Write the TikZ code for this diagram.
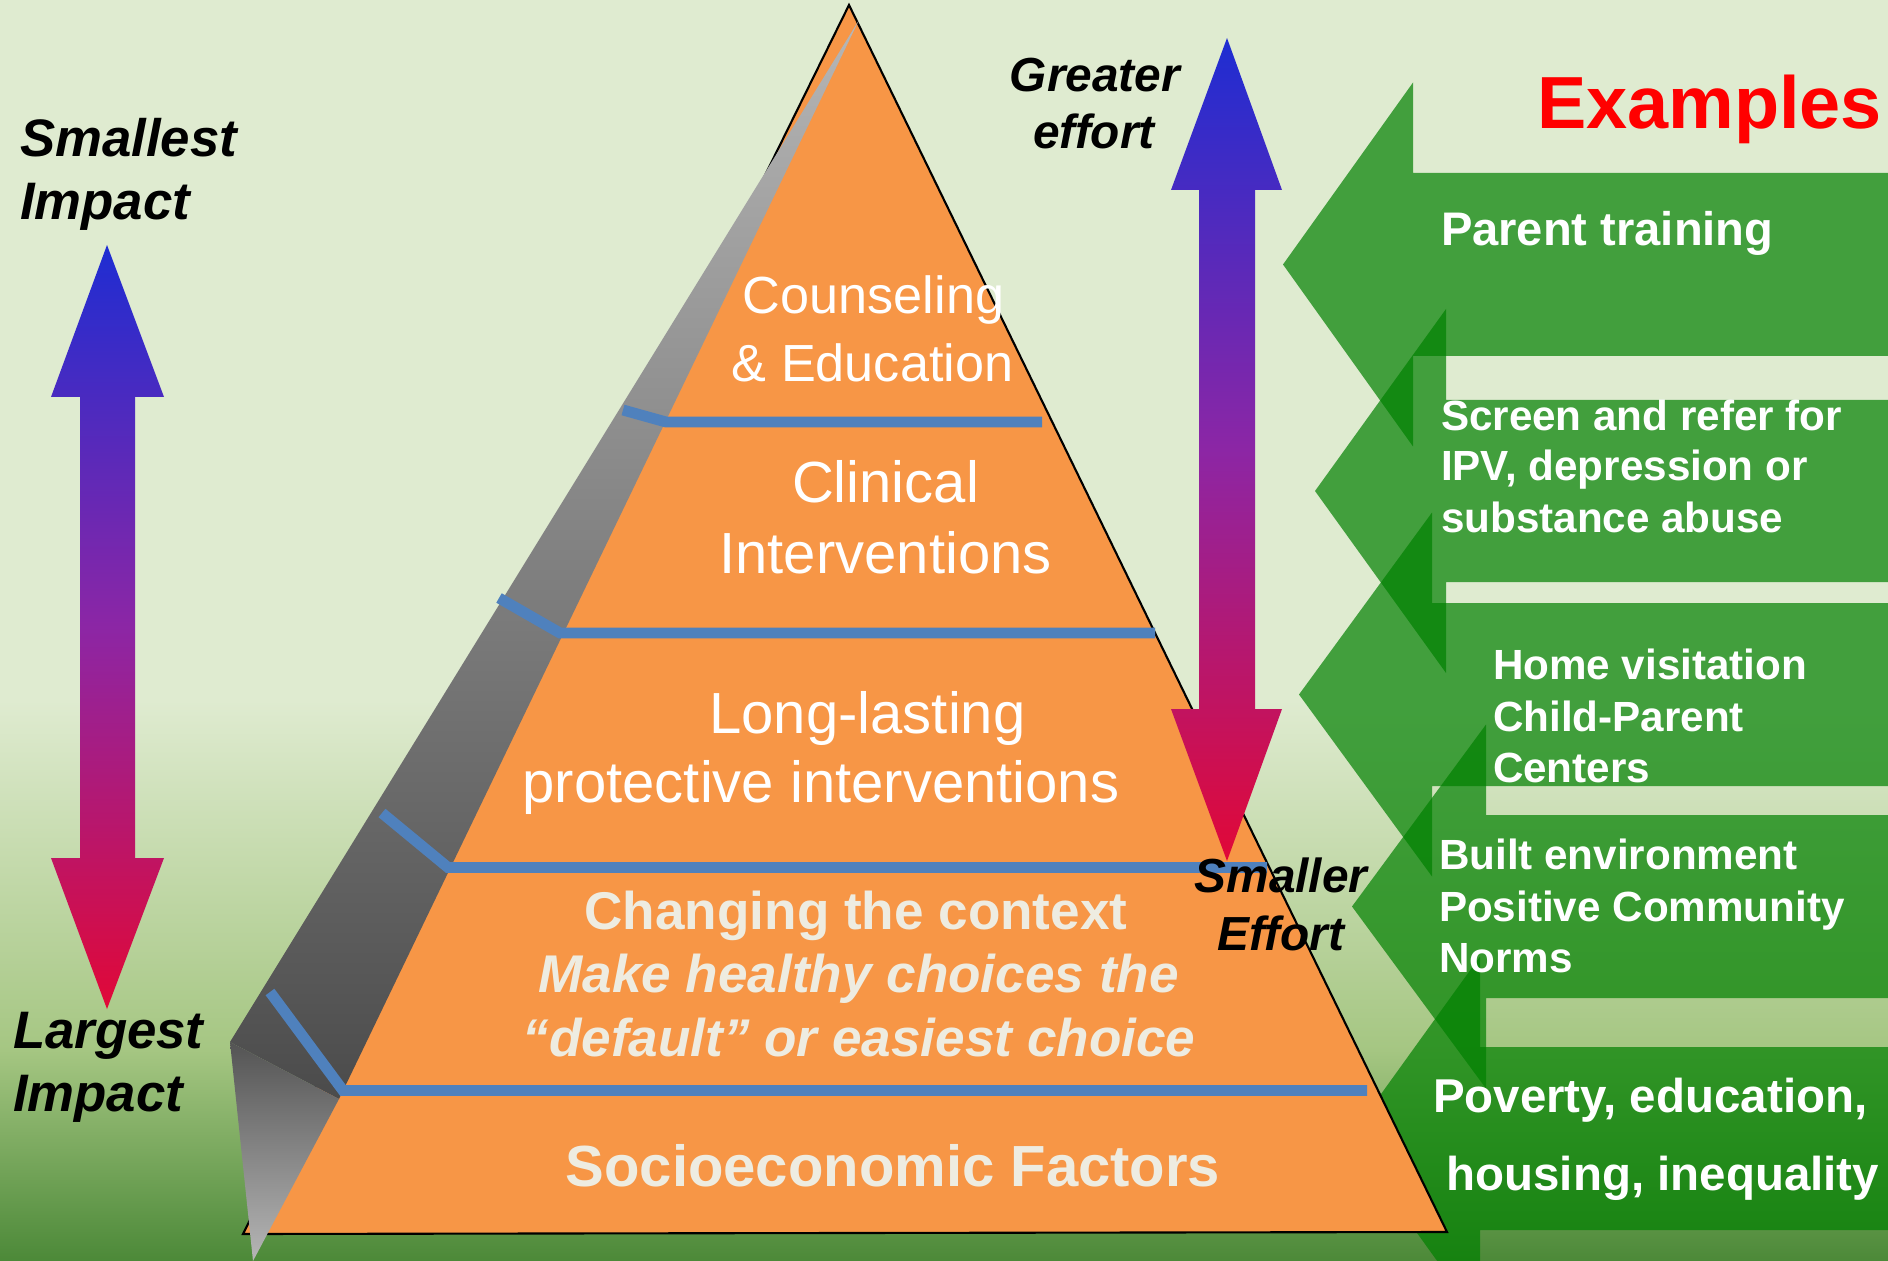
\documentclass[tikz,border=0pt]{standalone}
\usepackage{fontspec}
\setmainfont{Liberation Sans}
\definecolor{bglight}{RGB}{223,235,208}
\definecolor{bgmid}{RGB}{165,198,130}
\definecolor{bgdark}{RGB}{76,137,56}
\definecolor{tierorange}{RGB}{247,150,70}
\definecolor{tierline}{RGB}{79,129,189}
\definecolor{tiertext}{RGB}{238,236,225}
\definecolor{exgreen}{RGB}{0,128,0}
\definecolor{arrowblue}{RGB}{30,45,210}
\definecolor{arrowmid}{RGB}{140,38,165}
\definecolor{arrowred}{RGB}{225,8,55}
\definecolor{sidelight}{RGB}{182,182,182}
\definecolor{sidedark}{RGB}{75,75,75}
\begin{document}
\begin{tikzpicture}[x=0.01cm, y=-0.01cm,
  lbl/.style={inner sep=0pt, outer sep=0pt, anchor=base},
  lblw/.style={inner sep=0pt, outer sep=0pt, anchor=base west},
  axislbl/.style={font=\fontsize{15pt}{18pt}\selectfont\bfseries\itshape, text=black},
  effortlbl/.style={font=\fontsize{13.6pt}{16pt}\selectfont\bfseries\itshape, text=black},
  tiersmall/.style={font=\fontsize{14.85pt}{18pt}\selectfont, text=white},
  tierlarge/.style={font=\fontsize{16.5pt}{20pt}\selectfont, text=white},
  tierbold/.style={font=\fontsize{15.1pt}{18pt}\selectfont\bfseries, text=tiertext},
  tierboldit/.style={font=\fontsize{15.1pt}{18pt}\selectfont\bfseries\itshape, text=tiertext},
  tierbase/.style={font=\fontsize{16.5pt}{20pt}\selectfont\bfseries, text=tiertext},
  exhead/.style={font=\fontsize{13.4pt}{16pt}\selectfont\bfseries, text=white},
  exitem/.style={font=\fontsize{12pt}{14pt}\selectfont\bfseries, text=white},
  exbig/.style={font=\fontsize{13.5pt}{16pt}\selectfont\bfseries, text=white},
  example/.style={fill=exgreen, fill opacity=0.7},
  tierrule/.style={draw=tierline, line width=3.1pt},
  impactarrow/.style={top color=arrowblue, bottom color=arrowred, middle color=arrowmid}
]
\useasboundingbox (0,0) rectangle (1888,1261);
\clip (0,0) rectangle (1888,1261);

% background
\fill[bglight] (0,0) rectangle (1888,760);
\shade[top color=bglight, bottom color=bgmid] (0,700) rectangle (1888,1051);
\shade[top color=bgmid, bottom color=bgdark] (0,1050) rectangle (1888,1261);

% example arrows pointing left
\fill[example] (1283,264.5) -- (1413,82.5) -- (1413,173) -- (1888,173) -- (1888,356) -- (1413,356) -- (1413,446.5) -- cycle;
\fill[example] (1315,491) -- (1446,309) -- (1446,400) -- (1888,400) -- (1888,582) -- (1446,582) -- (1446,673) -- cycle;
\fill[example] (1299,694.5) -- (1432,512.5) -- (1432,603) -- (1888,603) -- (1888,786) -- (1432,786) -- (1432,876.5) -- cycle;
\fill[example] (1352,906.5) -- (1486,724.5) -- (1486,815) -- (1888,815) -- (1888,998) -- (1486,998) -- (1486,1088.5) -- cycle;
\fill[example] (1349,1138.5) -- (1480,956.5) -- (1480,1047) -- (1888,1047) -- (1888,1230) -- (1480,1230) -- (1480,1320.5) -- cycle;

% pyramid front face
\filldraw[fill=tierorange, draw=black, line width=0.6pt] (849,5) -- (243,1234) -- (1447,1232) -- cycle;

% pyramid side face
\shade[top color=sidelight, bottom color=sidedark] (859,20) -- (230,1042) -- (339,1099) -- cycle;
\shade[top color=sidedark!95!white, bottom color=sidelight] (230,1042) -- (339,1099) -- (253,1261) -- cycle;

% tier separators
\draw[tierrule] (623,410) -- (666,422) -- (1042,422);
\draw[tierrule] (499,598) -- (560,633) -- (1155,633);
\draw[tierrule] (382,813) -- (448,867.5) -- (1267,867.5);
\draw[tierrule] (270,992) -- (343,1090.5) -- (1367,1090.5);

% impact arrow
\shade[impactarrow] (107,245) -- (164,397) -- (135,397) -- (135,858) -- (164,858) -- (107,1009) -- (51,858) -- (80,858) -- (80,397) -- (51,397) -- cycle;
% effort arrow
\shade[impactarrow] (1227,38) -- (1282,190) -- (1255,190) -- (1255,709) -- (1282,709) -- (1227,861) -- (1171,709) -- (1199,709) -- (1199,190) -- (1171,190) -- cycle;

% tier labels
\node[lbl, tiersmall] (counsel1) at (873.5,314) {Counseling};
\node[lbl, tiersmall] (counsel2) at (872.5,382) {\& Education};
\node[lbl, tierlarge] (clinical1) at (885.5,502) {Clinical};
\node[lbl, tierlarge] (clinical2) at (885.5,573.5) {Interventions};
\node[lbl, tierlarge] (lasting1) at (867.5,733) {Long-lasting};
\node[lbl, tierlarge] (lasting2) at (821,802) {protective interventions};
\node[lbl, tierbold] (context1) at (856,929) {Changing the context};
\node[lbl, tierboldit] (context2) at (858.5,992.5) {Make healthy choices the};
\node[lbl, tierboldit] (context3) at (859,1056) {“default” or easiest choice};
\node[lbl, tierbase] (socio) at (893,1186.5) {Socioeconomic Factors};

% axis labels
\node[lblw, axislbl] (small1) at (20,157) {Smallest};
\node[lblw, axislbl] (small2) at (20,220) {Impact};
\node[lblw, axislbl] (large1) at (13,1048) {Largest};
\node[lblw, axislbl] (large2) at (13,1111) {Impact};
\node[lbl, effortlbl] (greater1) at (1095,92) {Greater};
\node[lbl, effortlbl] (greater2) at (1094,149) {effort};
\node[lbl, effortlbl] (smaller1) at (1281,892) {Smaller};
\node[lbl, effortlbl] (smaller2) at (1281,950) {Effort};

% examples
\node[lblw, font=\fontsize{21pt}{25pt}\selectfont\bfseries, text=red] (examples) at (1537,129) {Examples};
\node[lblw, exhead] (ex1) at (1441,246) {Parent training};
\node[lblw, exitem] (ex2a) at (1441,430) {Screen and refer for};
\node[lblw, exitem] (ex2b) at (1441,481) {IPV, depression or};
\node[lblw, exitem] (ex2c) at (1441,532) {substance abuse};
\node[lblw, exitem] (ex3a) at (1493,679) {Home visitation};
\node[lblw, exitem] (ex3b) at (1493,731) {Child-Parent};
\node[lblw, exitem] (ex3c) at (1493,782) {Centers};
\node[lblw, exitem] (ex4a) at (1439,869) {Built environment};
\node[lblw, exitem] (ex4b) at (1439,921) {Positive Community};
\node[lblw, exitem] (ex4c) at (1439,972) {Norms};
\node[lblw, exbig] (ex5a) at (1433,1112) {Poverty, education,};
\node[lblw, exbig] (ex5b) at (1446.5,1190) {housing, inequality};
\end{tikzpicture}
\end{document}
